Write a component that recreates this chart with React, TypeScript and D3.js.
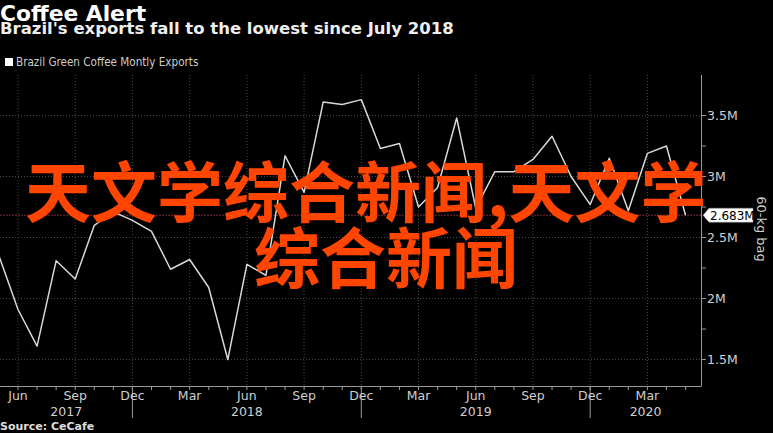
import React from 'react';
import * as d3 from 'd3';

// Brazil green coffee monthly exports, 60-kg bags (millions)
const months = [
  '2017-05', '2017-06', '2017-07', '2017-08', '2017-09', '2017-10', '2017-11', '2017-12',
  '2018-01', '2018-02', '2018-03', '2018-04', '2018-05', '2018-06', '2018-07', '2018-08',
  '2018-09', '2018-10', '2018-11', '2018-12', '2019-01', '2019-02', '2019-03', '2019-04',
  '2019-05', '2019-06', '2019-07', '2019-08', '2019-09', '2019-10', '2019-11', '2019-12',
  '2020-01', '2020-02', '2020-03', '2020-04', '2020-05',
];
const exportsM = [
  2.35, 1.91, 1.61, 2.31, 2.16, 2.6, 2.71, 2.64,
  2.55, 2.24, 2.32, 2.09, 1.5, 2.28, 2.19, 3.17,
  2.87, 3.61, 3.59, 3.63, 3.23, 3.27, 2.75, 2.91,
  3.48, 2.74, 3.04, 3.04, 3.14, 3.33, 3.0, 2.77,
  3.15, 2.72, 3.19, 3.25, 2.683,
];
const monthNames = ['Jan', 'Feb', 'Mar', 'Apr', 'May', 'Jun', 'Jul', 'Aug', 'Sep', 'Oct', 'Nov', 'Dec'];
const yTicks = [1.5, 2, 2.5, 3, 3.5];
const yMinorTicks = [1.75, 2.25, 2.75, 3.25];
const lastValue = 2.683;

const W = 773;
const H = 433;
const plot = { left: 0, right: 701, top: 75, bottom: 386 };

const axisFont = 'DejaVu Sans, sans-serif';
const condFont = 'DejaVu Sans Condensed, DejaVu Sans, sans-serif';

export default function App() {
  const x = d3.scaleLinear().domain([0.056, 36.81]).range([plot.left, plot.right]);
  const y = d3.scaleLinear().domain([1.283, 3.832]).range([plot.bottom, plot.top]);

  const line = d3.line<number>()
    .x((_, i) => x(i))
    .y(d => y(d));

  const monthOf = (m: string) => +m.slice(5, 7);
  const quarterIdx = months.map((m, i) => i).filter(i => monthOf(months[i]) % 3 === 0);
  const decIdx = months.map((m, i) => i).filter(i => monthOf(months[i]) === 12);

  // year labels centred in the span between the year separators
  const bounds = [plot.left, ...decIdx.map(i => x(i)), plot.right];
  const yearLabels = bounds.slice(0, -1).map((b, k) => ({
    year: String(2017 + k),
    cx: (b + bounds[k + 1]) / 2,
  }));

  const yLast = y(lastValue);

  return (
    <svg
      width={W}
      height={H}
      style={{ position: 'absolute', left: 0, top: 0, display: 'block', background: '#000' }}
    >
      <rect x={0} y={0} width={W} height={H} fill="#000" />

      {/* titles */}
      <text x={0} y={21} fill="#fff" fontFamily={axisFont} fontWeight="bold" fontSize={21.8}>
        Coffee Alert
      </text>
      <text x={0} y={34} fill="#eee" fontFamily={axisFont} fontWeight="bold" fontSize={16.5}>
        Brazil's exports fall to the lowest since July 2018
      </text>

      {/* legend */}
      <rect x={5} y={58} width={8} height={8} fill="#fff" />
      <text x={16} y={66} fill="#ccc" fontFamily={condFont} fontSize={11.6}>
        Brazil Green Coffee Montly Exports
      </text>

      {/* grid */}
      <g stroke="#4a4a4a" strokeWidth={1} strokeDasharray="1,2">
        {yTicks.map(t => (
          <line key={'h' + t} x1={plot.left} x2={plot.right} y1={y(t)} y2={y(t)} />
        ))}
        {quarterIdx.map(i => (
          <line key={'v' + i} x1={x(i)} x2={x(i)} y1={plot.top} y2={plot.bottom} />
        ))}
      </g>

      {/* last value reference line */}
      <line
        x1={plot.left}
        x2={plot.right}
        y1={yLast}
        y2={yLast}
        stroke="#7a2a3a"
        strokeWidth={1}
        strokeDasharray="2,1"
      />

      {/* series */}
      <path d={line(exportsM) || ''} fill="none" stroke="#d8d8d8" strokeWidth={1.5} strokeLinejoin="round" />

      {/* axes */}
      <g stroke="#9a9a9a" strokeWidth={1}>
        <line x1={plot.left} x2={plot.right} y1={plot.bottom + 0.5} y2={plot.bottom + 0.5} />
        <line x1={plot.right + 0.5} x2={plot.right + 0.5} y1={plot.top} y2={plot.bottom + 0.5} />
        {months.map((m, i) =>
          x(i) > 1 && x(i) < plot.right ? (
            <line key={'xt' + m} x1={x(i)} x2={x(i)} y1={plot.bottom} y2={plot.bottom + 4} />
          ) : null
        )}
        {decIdx.map(i => (
          <line key={'sep' + i} x1={x(i)} x2={x(i)} y1={plot.bottom} y2={plot.bottom + 32} />
        ))}
        {yTicks.concat(yMinorTicks).map(t => (
          <line key={'yt' + t} x1={plot.right} x2={plot.right + 5} y1={y(t)} y2={y(t)} />
        ))}
      </g>

      {/* x tick labels */}
      <g fill="#cfcfcf" fontFamily={axisFont} fontSize={12.5} textAnchor="middle">
        {quarterIdx.map(i => (
          <text key={'xl' + i} x={x(i)} y={400}>
            {monthNames[monthOf(months[i]) - 1]}
          </text>
        ))}
        {yearLabels.map(d => (
          <text key={d.year} x={d.cx} y={416}>
            {d.year}
          </text>
        ))}
      </g>

      {/* y tick labels */}
      <g fill="#cfcfcf" fontFamily={axisFont} fontSize={12.5}>
        {yTicks.map(t => (
          <text key={'yl' + t} x={707} y={y(t) + 4.5}>
            {d3.format('~g')(t) + 'M'}
          </text>
        ))}
      </g>

      {/* last value tag */}
      <g>
        <path
          d={`M${plot.right + 2},${yLast} L${plot.right + 8},${yLast - 7} L753,${yLast - 7} L753,${yLast + 7} L${plot.right + 8},${yLast + 7} Z`}
          fill="#fff"
          stroke="#888"
          strokeWidth={0.5}
        />
        <text x={710} y={yLast + 4.5} fill="#000" fontFamily={axisFont} fontSize={12}>
          {lastValue.toFixed(3) + 'M'}
        </text>
      </g>

      {/* y axis title */}
      <text
        transform={`translate(757, ${(190 + 268) / 2}) rotate(90)`}
        textAnchor="middle"
        fill="#cfcfcf"
        fontFamily={axisFont}
        fontSize={13}
      >
        60-kg bag
      </text>

      {/* source */}
      <text x={0} y={430} fill="#ddd" fontFamily={axisFont} fontWeight="bold" fontSize={11}>
        Source: CeCafe
      </text>

      {/* overlay caption */}
      <g fill="#ff4500" fontFamily="'Noto Sans CJK SC', sans-serif" fontWeight="bold" fontSize={66}>
        <text x={25} y={217}>天文学综合新闻,天文学</text>
        <text x={254} y={283}>综合新闻</text>
      </g>
    </svg>
  );
}
